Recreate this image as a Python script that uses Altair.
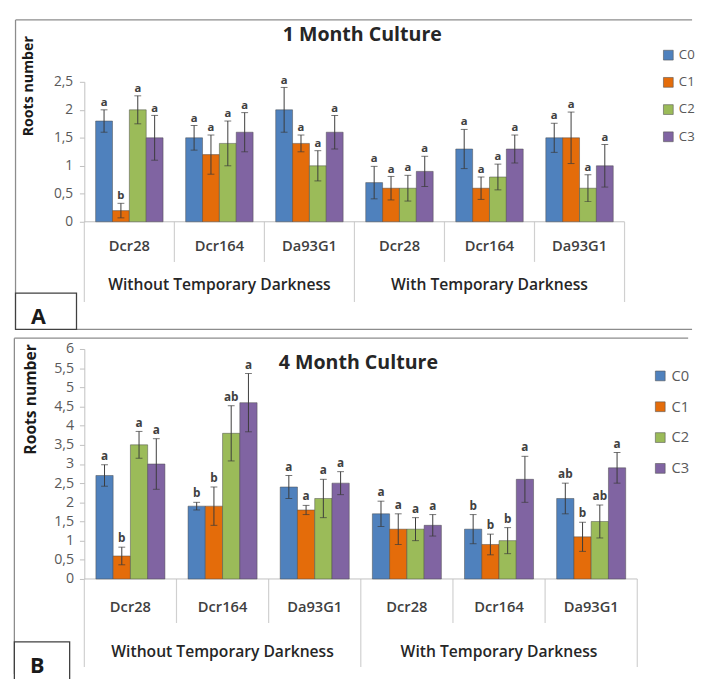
import altair as alt
import pandas as pd

groups = ["Without Temporary Darkness", "With Temporary Darkness"]
varieties = ["Dcr28", "Dcr164", "Da93G1"]
conditions = ["C0", "C1", "C2", "C3"]
colors = ["#4F81BD", "#E46C0A", "#9BBB59", "#8064A2"]

# Panel A: 1 Month Culture (rows: group x variety, cols: C0..C3)
a_mean = [[1.8, 0.2, 2.0, 1.5], [1.5, 1.2, 1.4, 1.6], [2.0, 1.4, 1.0, 1.6],
          [0.7, 0.6, 0.6, 0.9], [1.3, 0.6, 0.8, 1.3], [1.5, 1.5, 0.6, 1.0]]
a_err = [[0.2, 0.13, 0.25, 0.4], [0.22, 0.35, 0.4, 0.35], [0.4, 0.15, 0.27, 0.3],
         [0.29, 0.21, 0.23, 0.27], [0.35, 0.2, 0.23, 0.25], [0.26, 0.46, 0.24, 0.38]]
a_letters = [["a", "b", "a", "a"], ["a", "a", "a", "a"], ["a", "a", "a", "a"],
             ["a", "a", "a", "a"], ["a", "a", "a", "a"], ["a", "a", "a", "a"]]

# Panel B: 4 Month Culture
b_mean = [[2.7, 0.6, 3.5, 3.0], [1.9, 1.9, 3.8, 4.6], [2.4, 1.8, 2.1, 2.5],
          [1.7, 1.3, 1.3, 1.4], [1.3, 0.9, 1.0, 2.6], [2.1, 1.1, 1.5, 2.9]]
b_err = [[0.28, 0.23, 0.35, 0.66], [0.1, 0.5, 0.72, 0.76], [0.3, 0.12, 0.5, 0.3],
         [0.33, 0.4, 0.3, 0.28], [0.38, 0.27, 0.34, 0.6], [0.4, 0.38, 0.43, 0.4]]
b_letters = [["a", "b", "a", "a"], ["b", "b", "ab", "a"], ["a", "a", "a", "a"],
             ["a", "a", "a", "a"], ["b", "b", "b", "a"], ["ab", "b", "ab", "a"]]

a_ticks = [0, 0.5, 1, 1.5, 2, 2.5]
b_ticks = [0, 0.5, 1, 1.5, 2, 2.5, 3, 3.5, 4, 4.5, 5, 5.5, 6]

keys = [f"{g}|{v}" for g in groups for v in varieties]
FONT = "Open Sans"


def make_df(mean, err, letters):
    rows = []
    for i, k in enumerate(keys):
        for j, c in enumerate(conditions):
            m, e = mean[i][j], err[i][j]
            rows.append(dict(key=k, cond=c, mean=m, lo=m - e, hi=m + e,
                             letter=letters[i][j]))
    return pd.DataFrame(rows)


def panel(mean, err, letters, ticks, W, H, title, title_xy, ytitle_xy, fs, lab_pad,
          legend_xy, legend_rowpad, lab_dy, grp_dy, short_len, long_len,
          border, box, box_label, box_xy, bottom_line):
    df = make_df(mean, err, letters)
    xs = alt.Scale(domain=keys, paddingInner=0, paddingOuter=0)

    def X(**kw):
        return alt.X("key:N", scale=xs, axis=None, **kw)

    XO = alt.XOffset("cond:N", scale=alt.Scale(domain=conditions, paddingInner=0,
                                               paddingOuter=0.67))

    def Y(field):
        return alt.Y(field, scale=alt.Scale(domain=[ticks[0], ticks[-1]], nice=False, zero=True),
                     axis=alt.Axis(values=ticks, format="~g",
                                   labelExpr="replace(datum.label, '.', ',')",
                                   grid=False, domainColor="#BFBFBF", tickColor="#BFBFBF",
                                   tickSize=5, labelColor="#595959", labelFontSize=fs["tick"],
                                   labelFont=FONT, labelPadding=lab_pad,
                                   title="Roots number", titleFont=FONT,
                                   titleFontSize=fs["ytitle"], titleFontWeight="bold",
                                   titleColor="#1a1a1a", titleAngle=-90,
                                   titleX=ytitle_xy[0], titleY=ytitle_xy[1],
                                   titleAlign="center", titleBaseline="middle"))

    base = alt.Chart(df)
    bars = base.mark_bar(stroke="#4a4a4a", strokeWidth=0.5).encode(
        x=X(), xOffset=XO, y=Y("mean:Q"),
        color=alt.Color("cond:N", scale=alt.Scale(domain=conditions, range=colors),
                        legend=alt.Legend(title=None, orient="none",
                                          legendX=legend_xy[0], legendY=legend_xy[1],
                                          symbolType="square", symbolSize=100,
                                          symbolStrokeColor="#555555", symbolStrokeWidth=0.6,
                                          labelFont=FONT, labelFontSize=fs["legend"],
                                          labelColor="#595959", rowPadding=legend_rowpad,
                                          labelOffset=4)))
    erule = base.mark_rule(color="#3a3a3a", strokeWidth=1).encode(
        x=X(), xOffset=XO, y=Y("lo:Q"), y2="hi:Q")
    cap_hi = base.mark_tick(orient="horizontal", size=7, thickness=1, color="#3a3a3a").encode(
        x=X(), xOffset=XO, y=Y("hi:Q"))
    cap_lo = base.mark_tick(orient="horizontal", size=7, thickness=1, color="#3a3a3a").encode(
        x=X(), xOffset=XO, y=Y("lo:Q"))
    lets = base.mark_text(baseline="bottom", dy=-2, font=FONT, fontSize=fs["letter"],
                          fontWeight="bold", color="#404040").encode(
        x=X(), xOffset=XO, y=Y("hi:Q"), text="letter:N")

    baseline_df = pd.DataFrame({"v": [0]})
    baseline = alt.Chart(baseline_df).mark_rule(color="#BFBFBF", strokeWidth=1).encode(
        y=Y("v:Q"))

    lab_df = pd.DataFrame({"key": keys, "lab": [k.split("|")[1] for k in keys]})
    var_labels = alt.Chart(lab_df).mark_text(font=FONT, fontSize=fs["var"], fontWeight=600,
                                             color="#404040").encode(
        x=X(), y=alt.value(H + lab_dy), text="lab:N")
    grp_df = pd.DataFrame({"key": [f"{g}|{varieties[1]}" for g in groups], "lab": groups})
    grp_labels = alt.Chart(grp_df).mark_text(font=FONT, fontSize=fs["grp"], fontWeight=600,
                                             color="#262626").encode(
        x=X(), y=alt.value(H + grp_dy), text="lab:N")

    sep_df = pd.DataFrame({"key": keys,
                           "kind": ["long" if k.endswith(varieties[0]) else "short" for k in keys]})
    sep_long = alt.Chart(sep_df).transform_filter("datum.kind == 'long'").mark_rule(
        color="#D0D0D0", strokeWidth=1.2).encode(
        x=X(bandPosition=0), y=alt.value(H), y2=alt.value(H + long_len))
    sep_short = alt.Chart(sep_df).transform_filter("datum.kind == 'short'").mark_rule(
        color="#D0D0D0", strokeWidth=1.2).encode(
        x=X(bandPosition=0), y=alt.value(H), y2=alt.value(H + short_len))
    sep_end = alt.Chart(pd.DataFrame({"key": [keys[-1]]})).mark_rule(
        color="#D0D0D0", strokeWidth=1.2).encode(
        x=X(bandPosition=1), y=alt.value(H), y2=alt.value(H + long_len))

    one = pd.DataFrame({"t": [title]})
    ttl = alt.Chart(one).mark_text(font=FONT, fontSize=fs["title"], fontWeight="bold",
                                   color="#262626").encode(
        x=alt.value(title_xy[0]), y=alt.value(title_xy[1]), text="t:N")

    bl, bt, bb, br, bleft_bound = border
    bdf = pd.DataFrame({"t": [""]})
    border_layers = [
        alt.Chart(bdf).mark_rule(color="#ffffff", strokeWidth=1).encode(
            x=alt.value(bleft_bound), y=alt.value(bt), y2=alt.value(bt + 5)),
        alt.Chart(bdf).mark_rule(color="#8c8c8c", strokeWidth=1.3).encode(
            x=alt.value(bl), y=alt.value(bt), y2=alt.value(bb)),
        alt.Chart(bdf).mark_rule(color="#8c8c8c", strokeWidth=1.3).encode(
            x=alt.value(bl), x2=alt.value(br), y=alt.value(bt)),
    ]
    if bottom_line:
        border_layers.append(alt.Chart(bdf).mark_rule(color="#8c8c8c", strokeWidth=1.3).encode(
            x=alt.value(bl), x2=alt.value(br), y=alt.value(bb)))
    x1, y1, x2, y2 = box
    boxr = alt.Chart(bdf).mark_rect(fill="white", stroke="#404040", strokeWidth=1.3).encode(
        x=alt.value(x1), x2=alt.value(x2), y=alt.value(y1), y2=alt.value(y2))
    boxt = alt.Chart(pd.DataFrame({"t": [box_label]})).mark_text(
        font=FONT, fontSize=22, fontWeight="bold", color="#1a1a1a").encode(
        x=alt.value(box_xy[0]), y=alt.value(box_xy[1]), text="t:N")

    return alt.layer(*border_layers, boxr, boxt, sep_long, sep_short, sep_end, baseline,
                     bars, erule, cap_hi, cap_lo, lets, var_labels, grp_labels, ttl).properties(
        width=W, height=H)


fsA = dict(tick=14, ytitle=14.5, legend=13.5, letter=11.5, var=15, grp=16, title=20)
fsB = dict(tick=14.5, ytitle=16, legend=15, letter=12, var=15, grp=16, title=20)

pA = panel(a_mean, a_err, a_letters, a_ticks, 552, 143, "1 Month Culture", (284, -48),
           (-57, 4), fsA, 7, (590, -34), 12.8, 25, 65, 41, 82,
           (-70.3, -63.3, 253, 621, -70.3), (-70.3, 216, -8, 253), "A", (-47, 240), True)
pB = panel(b_mean, b_err, b_letters, b_ticks, 565, 235, "4 Month Culture", (280, 14),
           (-55, 51), fsB, 6, (581, 20), 15.5, 29, 75, 45, 90,
           (-71.5, -11, 332, 617, -75), (-71.5, 299.3, -15, 340), "B", (-48, 324), False)

chart = alt.vconcat(pA, pB, spacing=7).resolve_scale(
    color="independent", x="independent", y="independent", xOffset="independent"
).resolve_legend(color="independent").properties(
    padding={"left": 2, "top": 4, "right": 0, "bottom": 0}
).configure_view(stroke=None)

chart.save("out.html", embed_options={"renderer": "svg", "actions": False})
